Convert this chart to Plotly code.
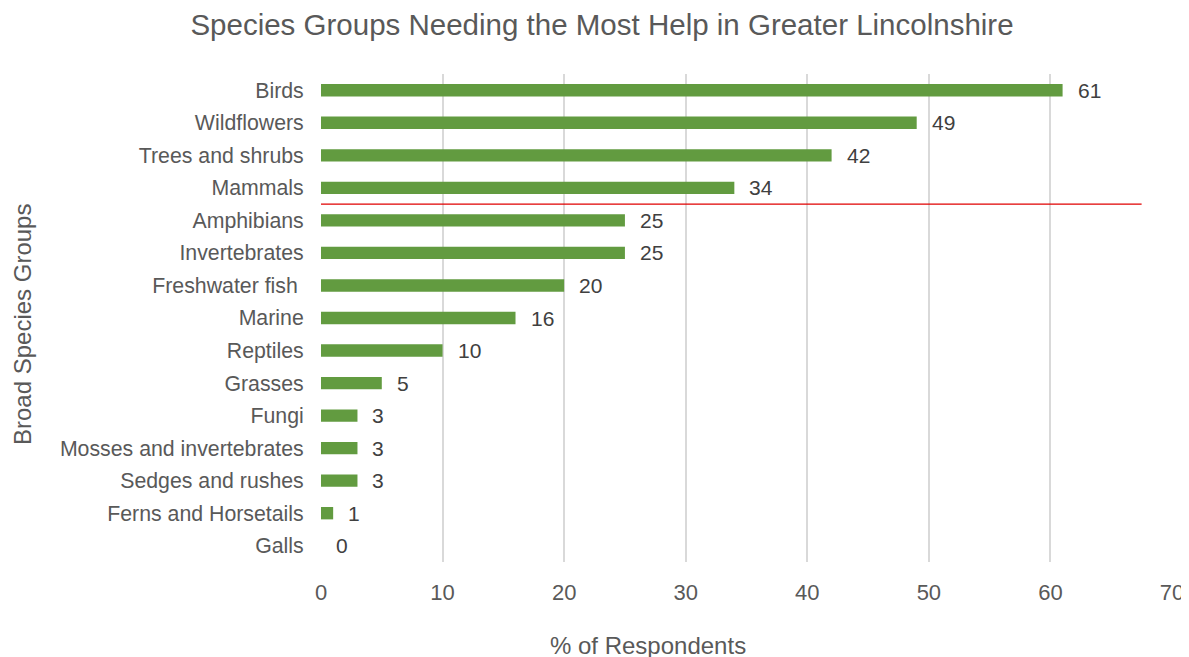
import plotly.graph_objects as go

categories = ["Birds", "Wildflowers", "Trees and shrubs", "Mammals", "Amphibians",
              "Invertebrates", "Freshwater fish ", "Marine", "Reptiles", "Grasses",
              "Fungi", "Mosses and invertebrates", "Sedges and rushes",
              "Ferns and Horsetails", "Galls"]
values = [61, 49, 42, 34, 25, 25, 20, 16, 10, 5, 3, 3, 3, 1, 0]
x_ticks = [0, 10, 20, 30, 40, 50, 60, 70]
cutoff_index = 3.5   # line between Mammals and Amphibians
cutoff_end = 67.5

FONT = "Liberation Sans, Arial, sans-serif"
GREY = "#595959"
W, H = 1189, 657
OFF = 8  # page body margin
L, R, T, B = 321 - OFF, W - (1172 - OFF), 74 - OFF, H - (562 - OFF)
PW, PH = W - L - R, H - T - B

fig = go.Figure(go.Bar(
    x=values, y=categories, orientation="h",
    marker=dict(color="#629B40", line=dict(width=0)),
    width=0.38,
))

annotations = [
    dict(x=v, y=c, xref="x", yref="y", text=str(v), showarrow=False,
         xanchor="left", xshift=13, font=dict(size=21, color="#404040", family=FONT))
    for c, v in zip(categories, values)
]
annotations.append(dict(text="Broad Species Groups", xref="paper", yref="paper",
                        x=(22 - OFF - L) / PW, y=1 - ((325 - OFF) - T) / PH, textangle=-90,
                        showarrow=False, xanchor="center", yanchor="middle",
                        font=dict(size=24, color=GREY, family=FONT)))
annotations.append(dict(text="% of Respondents", xref="paper", yref="paper",
                        x=(648 - OFF - L) / PW, y=-((645 - OFF) - (H - B)) / PH,
                        showarrow=False, xanchor="center", yanchor="middle",
                        font=dict(size=24, color=GREY, family=FONT)))

fig.update_layout(
    width=W, height=H,
    margin=dict(l=L, r=R, t=T, b=B, autoexpand=False),
    paper_bgcolor="white", plot_bgcolor="white",
    font=dict(family=FONT, color=GREY),
    title=dict(text="Species Groups Needing the Most Help in Greater Lincolnshire",
               x=(602 - OFF) / W, xanchor="center", y=1 - (25 - OFF) / H, yanchor="middle",
               font=dict(size=29.5, color=GREY, family=FONT)),
    showlegend=False,
    xaxis=dict(range=[0, 70], tickvals=x_ticks, showgrid=True, gridcolor="#D9D9D9",
               gridwidth=1.5, zeroline=False, showline=False, automargin=False,
               ticks="outside", ticklen=11, tickcolor="rgba(0,0,0,0)",
               tickfont=dict(size=22, color=GREY)),
    yaxis=dict(autorange="reversed", categoryorder="array", categoryarray=categories,
               showgrid=False, ticks="outside", ticklen=12, tickcolor="rgba(0,0,0,0)",
               automargin=False, tickfont=dict(size=21.3, color=GREY)),
    shapes=[dict(type="line", xref="x", yref="y", x0=0, x1=cutoff_end,
                 y0=cutoff_index, y1=cutoff_index,
                 line=dict(color="#E00000", width=1.3))],
    annotations=annotations,
)
fig.write_html("out.html")
